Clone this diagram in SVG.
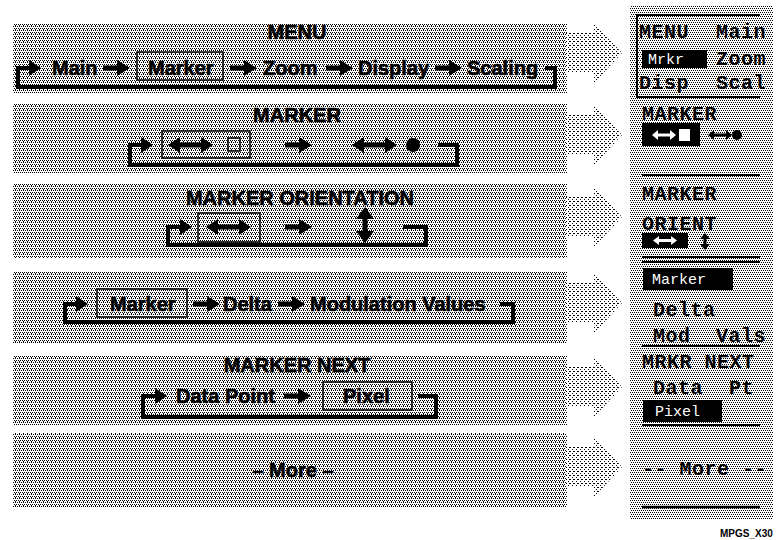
<svg xmlns="http://www.w3.org/2000/svg" xmlns:xlink="http://www.w3.org/1999/xlink" width="778" height="540" viewBox="0 0 778 540">
<style>
.t{font-family:"Liberation Sans",Arial,sans-serif;font-weight:bold;font-size:20px;fill:#000;stroke:#000;stroke-width:0.6px}
.ti{text-anchor:middle}
.m{font-family:"Liberation Mono","Courier New",monospace;font-weight:bold;font-size:20px;fill:#000;letter-spacing:0.5px}
.mw{font-family:"Liberation Mono","Courier New",monospace;font-size:15px;fill:#fff}
.box{fill:none;stroke:#000;stroke-width:1.5}
.loop{fill:none;stroke:#000;stroke-width:4;stroke-linejoin:miter}
.ln{stroke:#000;stroke-width:2}
.foot{font-family:"Liberation Sans",Arial,sans-serif;font-weight:bold;font-size:10px;fill:#000}
</style>
<defs>
<pattern id="pBand" width="4" height="4" patternUnits="userSpaceOnUse"><rect width="4" height="4" fill="#fff"/><rect x="0" y="0" width="1" height="1" fill="#000"/><rect x="2" y="0" width="1" height="1" fill="#000"/><rect x="1" y="2" width="1" height="1" fill="#000"/><rect x="3" y="2" width="1" height="1" fill="#000"/><rect x="3" y="1" width="1" height="1" fill="#000"/></pattern>
<pattern id="pArrow" width="4" height="4" patternUnits="userSpaceOnUse"><rect width="4" height="4" fill="#fff"/><rect x="0" y="0" width="1" height="1" fill="#000"/><rect x="2" y="2" width="1" height="1" fill="#000"/><rect x="3" y="0" width="1" height="1" fill="#000"/></pattern>
<pattern id="pPanel" width="4" height="4" patternUnits="userSpaceOnUse"><rect width="4" height="4" fill="#fff"/><rect x="0" y="0" width="1" height="1" fill="#000"/><rect x="2" y="0" width="1" height="1" fill="#000"/><rect x="1" y="2" width="1" height="1" fill="#000"/><rect x="3" y="2" width="1" height="1" fill="#000"/></pattern>
<path id="ar" d="M0,-2.5 H14 V-8 L27,0 L14,8 V2.5 H0 Z" fill="#000"/>
<path id="hd" d="M0,-8 L12,0 L0,8 Z" fill="#000"/>
<path id="dar" d="M0,0 L12,-8 L12,-2.5 L33,-2.5 L33,-8 L45,0 L33,8 L33,2.5 L12,2.5 L12,8 Z" fill="#000"/>
<path id="var" d="M0,0 L-9,12 L-2.5,12 L-2.5,24 L-9,24 L0,36 L9,24 L2.5,24 L2.5,12 L9,12 Z" fill="#000"/>
<path id="block" d="M0,-20 H28 V-30 L56,0 L28,30 V20 H0 Z" fill="url(#pArrow)"/>
</defs>
<rect width="778" height="540" fill="#fff"/>

<g id="bands">
<rect x="13" y="23" width="554" height="70" fill="url(#pBand)"/>
<rect x="13" y="103" width="554" height="70" fill="url(#pBand)"/>
<rect x="13" y="183" width="554" height="75" fill="url(#pBand)"/>
<rect x="13" y="272" width="554" height="71" fill="url(#pBand)"/>
<rect x="13" y="355" width="554" height="70" fill="url(#pBand)"/>
<rect x="13" y="433" width="554" height="74" fill="url(#pBand)"/>
</g>
<g id="block-arrows">
<use href="#block" x="566" y="53"/>
<use href="#block" x="566" y="135"/>
<use href="#block" x="566" y="217"/>
<use href="#block" x="566" y="303"/>
<use href="#block" x="566" y="387"/>
<use href="#block" x="566" y="467"/>
</g>

<g id="connectors">
<path class="loop" d="M30,68 H18 V87 H555 V68 H545"/>
<use href="#hd" x="29" y="68"/>
<use href="#ar" x="103" y="68"/>
<use href="#ar" x="230" y="68"/>
<use href="#ar" x="326" y="68"/>
<use href="#ar" x="435" y="68"/>

<path class="loop" d="M142,145 H130 V165 H457 V145 H438"/>
<use href="#hd" x="141" y="145"/>
<use href="#ar" x="285" y="145"/>

<path class="loop" d="M181,227 H168 V245 H426 V227 H403"/>
<use href="#hd" x="180" y="227"/>
<use href="#ar" x="285" y="227"/>

<path class="loop" d="M77,304 H65 V322 H513 V304 H500"/>
<use href="#hd" x="76" y="304"/>
<use href="#ar" x="193" y="304"/>
<use href="#ar" x="278" y="304"/>

<path class="loop" d="M156,396 H143 V417 H436 V396 H418"/>
<use href="#hd" x="155" y="396"/>
<use href="#ar" x="284" y="396"/>
</g>

<g id="menu">
<text class="t ti" x="297" y="39">MENU</text>
<text class="t" x="52" y="75">Main</text>
<rect class="box" x="137" y="52" width="86" height="28"/>
<text class="t" x="148" y="75">Marker</text>
<text class="t" x="263" y="75">Zoom</text>
<text class="t" x="358" y="75">Display</text>
<text class="t" x="467" y="75">Scaling</text>
</g>

<g id="marker">
<text class="t ti" x="297" y="122">MARKER</text>
<rect class="box" x="162" y="131" width="88" height="27"/>
<use href="#dar" x="168" y="145"/>
<rect x="228" y="138" width="12" height="13" fill="none" stroke="#000" stroke-width="1.5"/>
<use href="#dar" x="352" y="145"/>
<circle cx="413" cy="145" r="7" fill="#000"/>
</g>

<g id="marker-orientation">
<text class="t ti" x="300" y="205">MARKER ORIENTATION</text>
<rect class="box" x="198" y="213" width="62" height="29"/>
<use href="#dar" x="206" y="227"/>
<use href="#var" x="365" y="207"/>
</g>

<g id="marker-menu">
<rect class="box" x="97" y="289" width="90" height="28"/>
<text class="t" x="110" y="311">Marker</text>
<text class="t" x="223" y="311">Delta</text>
<text class="t" x="310" y="311">Modulation Values</text>
</g>

<g id="marker-next">
<text class="t ti" x="297" y="372">MARKER NEXT</text>
<text class="t" x="176" y="403">Data Point</text>
<rect class="box" x="323" y="382" width="89" height="28"/>
<text class="t" x="343" y="403">Pixel</text>
</g>

<g id="more">
<text class="t ti" x="293" y="477">– More –</text>
</g>

<g id="panel">
<rect x="630" y="5" width="143" height="515" fill="url(#pPanel)"/>
<path class="ln" d="M760,15 H637 V97 H760" fill="none"/>
<text class="m" x="639" y="38">MENU</text>
<text class="m" x="766" y="38" text-anchor="end">Main</text>
<rect x="642" y="50" width="65" height="18" fill="#000"/>
<text class="mw" x="648" y="64">Mrkr</text>
<text class="m" x="766" y="65" text-anchor="end">Zoom</text>
<text class="m" x="639" y="89">Disp</text>
<text class="m" x="766" y="89" text-anchor="end">Scal</text>

<text class="m" x="642" y="120">MARKER</text>
<rect x="642" y="123" width="58" height="23" fill="#000"/>
<path d="M652,135 L658,130 V133.5 H670 V130 L676,135 L670,140 V136.5 H658 V140 Z" fill="#fff"/>
<rect x="679" y="129" width="11" height="12" fill="#fff"/>
<path d="M708,135 L714,130 V133.5 H726 V130 L732,135 L726,140 V136.5 H714 V140 Z" fill="#000"/>
<circle cx="737" cy="135" r="5" fill="#000"/>
<line class="ln" x1="642" y1="175" x2="760" y2="175"/>

<text class="m" x="642" y="200">MARKER</text>
<text class="m" x="642" y="230">ORIENT</text>
<rect x="642" y="233" width="46" height="15" fill="#000"/>
<path d="M653,240.5 L659,236 V239 H671 V236 L677,240.5 L671,245 V242 H659 V245 Z" fill="#fff"/>
<path d="M705,233 L700,239 H703.5 V244 H700 L705,250 L710,244 H706.5 V239 H710 Z" fill="#000"/>
<line class="ln" x1="642" y1="257" x2="760" y2="257"/>
<line class="ln" x1="642" y1="262" x2="760" y2="262"/>

<rect x="643" y="268" width="90" height="22" fill="#000"/>
<text class="mw" x="652" y="284">Marker</text>
<text class="m" x="653" y="316">Delta</text>
<text class="m" x="653" y="342">Mod</text>
<text class="m" x="766" y="342" text-anchor="end">Vals</text>
<line class="ln" x1="642" y1="346" x2="760" y2="346"/>

<text class="m" x="642" y="368">MRKR NEXT</text>
<text class="m" x="653" y="394">Data</text>
<text class="m" x="754" y="394" text-anchor="end">Pt</text>
<rect x="643" y="400" width="79" height="22" fill="#000"/>
<text class="mw" x="655" y="416">Pixel</text>
<line class="ln" x1="642" y1="425" x2="760" y2="425"/>

<text class="m" x="642" y="475">-- More --</text>
<line x1="642" y1="507" x2="760" y2="507" stroke="#000" stroke-width="2.5"/>
</g>

<text class="foot" x="720" y="537">MPGS_X30</text>
</svg>
